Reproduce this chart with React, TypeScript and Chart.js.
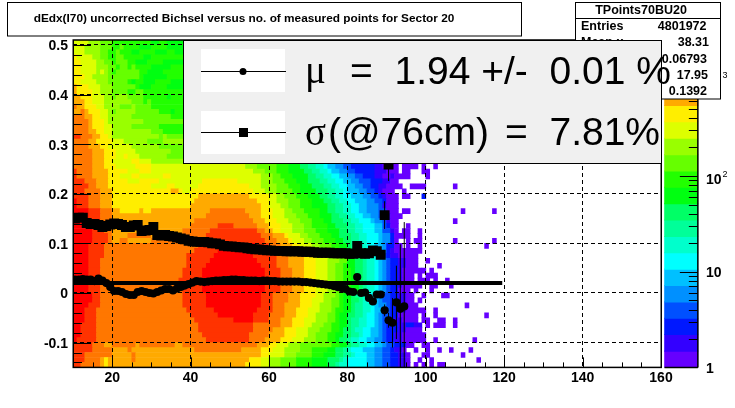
import React, { useEffect, useRef } from "react";
import { Chart, registerables } from "chart.js";

Chart.register(...registerables);

const FONT = '"Liberation Sans", Arial, sans-serif';

const titleText = "dEdx(I70) uncorrected Bichsel versus no. of measured points for Sector 20";
const statsName = "TPoints70BU20";
const statsLabels = ["Entries", "Mean x", "Mean y", "RMS x", "RMS y"];
const statsValues = ["4801972", "38.31", "0.06793", "17.95", "0.1392"];

const xTickValues = [20, 40, 60, 80, 100, 120, 140, 160];
const yTickValues = [-0.1, 0, 0.1, 0.2, 0.3, 0.4, 0.5];
const zTickValues = [1, 10, 100, 1000];
const zTickLabels = ["1", "10", "10", "10"];
const zTickExponents = ["", "", "2", "3"];
const zMinorValues = [2, 3, 4, 5, 6, 7, 8, 9, 20, 30, 40, 50, 60, 70, 80, 90, 200, 300, 400, 500, 600, 700, 800, 900, 2000];

// colour levels a..t, lowest count to highest
const levelColours = [
  "#6600ff", "#3300ff", "#0018ff", "#0050ff", "#0090ff", "#00c0ff", "#00ffff", "#00ffcc", "#00ff99", "#00ff66",
  "#00ff11", "#22ff00", "#66ff00", "#99ff00", "#ddff00", "#ffee00", "#ffaa00", "#ff7700", "#ff3300", "#ff0000",
];
const levelLetters = "abcdefghijklmnopqrst";
const zBandCentres = [1.22, 1.8, 2.68, 3.97, 5.88, 8.71, 12.9, 19.1, 28.3, 42, 62.3, 92.2, 136.6, 202, 300, 445, 659, 976, 1446, 2143];

// lower edge of each histogram row
const heatRowY = [
  0.5, 0.49, 0.48, 0.47, 0.46, 0.45, 0.44, 0.43, 0.42, 0.41, 0.4, 0.39, 0.38, 0.37, 0.36, 0.35, 0.34, 0.33, 0.32, 0.31, 0.3, 0.29, 0.28, 0.27, 0.26,
  0.25, 0.24, 0.23, 0.22, 0.21, 0.2, 0.19, 0.18, 0.17, 0.16, 0.15, 0.14, 0.13, 0.12, 0.11, 0.1, 0.09, 0.08, 0.07, 0.06, 0.05, 0.04, 0.03, 0.02, 0.01, 0,
  -0.01, -0.02, -0.03, -0.04, -0.05, -0.06, -0.07, -0.08, -0.09, -0.1, -0.11, -0.12, -0.13, -0.14, -0.15,
];
// each row: colour level + the x bin where it starts; "_" is an empty stretch
const heatRows = [
  "o10 n14 m17 l20 k30 l32 k34 _39",
  "o10 n13 m17 l20 m22 l23 k27 l30 k34 _39",
  "o10 n13 m17 l19 m21 l22 k25 l27 k31 l34 k36 _39",
  "p10 o11 n15 m17 l19 m21 l23 k28 l30 _39",
  "p10 o12 n16 m18 l20 m21 l24 k26 l29 k33 _39",
  "p10 o12 n16 m19 l21 m22 l24 m25 l26 k30 l35 _39",
  "p10 o12 n16 o17 n18 m19 l20 m21 l27 k29 l33 _39",
  "p10 o13 n15 m19 l27 k28 l34 _39",
  "p10 o12 n16 m19 l24 k25 l26 k28 l31 k35 _39",
  "q10 p11 o14 n17 m20 l26 k27 l30 k34 _39",
  "q10 p11 o15 n17 m20 l24 m26 l28 _39",
  "q10 p12 o15 n18 m20 n21 m24 l28 k34 l35 _39",
  "q10 p13 o15 n18 m25 l28 m29 l30 _39",
  "r10 q11 p13 o16 n18 m22 n25 m26 l30 _39",
  "q10 r12 q13 p14 o17 n19 m20 n21 m26 l32 k35 l36 _39",
  "r10 q13 p15 o17 n19 m25 l35 _39",
  "r10 q14 p15 o18 n19 m28 _39",
  "r10 q14 p15 o18 n20 m25 l32 _39",
  "r10 q14 p16 o18 n20 m30 l33 _39",
  "s10 r12 q15 p17 o19 n20 m32 n33 m34 _39",
  "r10 q14 p16 o20 n23 m29 n33 _39",
  "r10 q14 p17 o19 n25 m32 _39",
  "r10 q15 p18 o21 n26 m35 _39",
  "r10 q15 p18 o21 p23 o24 n27 m34 _39",
  "r10 q15 p18 o20 p25 o27 n30 _39",
  "r10 q15 p18 o21 p26 o30 n54 m57 l62 k65 j68 i70 h72 g74 f75 e77 d79 c81 b87 a89 _93 a94 _98 a99 _100 a102 _103",
  "s10 r11 q15 p19 o24 p27 o30 n56 m59 l62 k65 j69 i71 h73 g75 f76 e78 d80 c82 b87 a90 _93 a94 _96 a99 _101",
  "s10 r11 q15 p19 o22 p25 o27 p33 o35 n58 m61 l63 k66 j70 i72 h74 g76 f78 e80 d82 c84 b87 a89 b91 a92 _96 a100 _101",
  "s10 r13 q16 p19 o24 p27 o32 p43 o52 n58 m61 l64 k67 j70 i73 h75 g77 f79 e81 d83 c86 b89 a91 _93",
  "s10 r14 q16 p19 o30 p34 o36 p42 o55 n58 m62 l65 k68 j71 i74 h76 g78 f80 e82 d84 c86 b88 a90 _94 a96 _100 a107 _108",
  "s10 r13 q17 p20 q35 p37 o38 p40 o56 n59 m62 l66 k68 j72 i75 h77 g79 f80 e83 d85 c87 b88 a89 _92 a94 _95",
  "s10 r14 q17 p20 q42 p55 o60 n62 m64 l67 k70 j73 i75 h77 g79 f81 e84 d86 c88 b89 a90 _93 a94 _96 c99 _100",
  "t10 s11 r14 q17 p20 q41 p57 o60 n62 m65 l68 k71 j74 i76 h78 g80 f82 e85 d87 c89 a90 _93",
  "t10 s11 r14 q17 p20 q40 p58 o60 n63 m65 l68 k71 j75 i77 h79 g81 f83 e85 d88 b89 a90 _93",
  "t10 s14 r17 q20 p22 q27 p28 q30 r45 q54 p58 o61 n64 m66 l69 k73 j75 i77 h79 g81 f83 e85 d88 a90 _93 a94 _96 a109 _110 a117 _118",
  "t10 s14 r17 q20 r44 q55 p58 o61 n64 m67 l70 k73 j76 i78 h80 g82 f84 e86 d88 b90 a91 _94",
  "t10 s14 r17 q20 r41 q56 p59 o62 n65 m68 l71 k74 j76 i79 h81 g83 f86 e87 d89 b90 a91 _93 a107 _108",
  "t10 s14 r17 q20 r40 s47 r51 q57 p60 o63 n66 m69 l71 k75 j77 i80 h82 g84 f87 d89 c90 a91 _93 a95 _96",
  "t10 s15 r18 q20 r38 s45 r57 q59 p61 o63 n66 m69 l72 k75 j78 i80 h82 g84 f87 d89 b91 a92 _93 a94 _96 a98 _99",
  "t10 s15 r19 q20 r24 q30 r38 s44 r58 q61 p64 o65 n68 m70 l73 k76 j78 i81 h83 g85 f88 e89 c91 a92 _94 a94 _96 a98 _99",
  "t10 s15 r19 q20 r22 q24 r30 s44 r59 q62 p65 o66 n69 m71 l74 k77 j79 i81 h83 g85 f88 e89 c91 a92 _93 a95 _96 a97 _99 a107 _108 a117 _118",
  "t10 s14 r18 s42 t50 s57 r60 q63 p66 o68 n71 m73 l76 k78 j80 i81 h83 g85 f87 e89 c90 a92 _94 a95 _96 a98 _99 a115 _116",
  "t10 s14 r18 s41 t47 s58 r61 q64 p67 o70 n73 m75 l77 k79 j81 i83 h85 g86 f88 e89 c90 b91 a92 _99",
  "t10 s14 r18 s39 t46 s56 r62 q65 p69 o72 n75 m78 l80 k82 j83 i84 h86 g87 f88 d89 c90 b91 a93 _98",
  "t10 s14 r17 s39 t45 s57 r62 q65 p69 o72 n75 m78 k80 j82 i84 h85 g87 f88 e89 d90 c91 b93 a95 _98 a100 _101",
  "t10 s14 r17 s39 t44 s58 r62 q65 p69 o72 n75 m77 l79 k80 j82 i84 h85 g87 f88 e89 d90 c91 b93 a95 _98 a103 _104",
  "t10 s14 r17 s38 t43 s59 r63 q66 p69 o72 n75 m77 l79 k81 j82 i84 h85 g87 f88 e89 d90 c91 b93 a94 _99 a99 _100 a101 _102",
  "t10 s14 r17 s38 t43 s59 r63 q66 p69 o72 n75 m77 l79 k81 j82 i84 h85 g87 f88 e89 d90 c91 b93 a94 _97 a98 _99 a100 _103",
  "t10 s14 r17 s37 t43 s59 r63 q66 p69 o72 n75 m77 l79 k81 j82 i84 h85 g87 f88 e89 d90 c91 b93 a94 _97 a98 _101 a102 _103 a105 _106",
  "t10 s14 r17 s37 t43 s59 r63 q66 p69 o72 n75 m77 l79 k81 j83 i84 h85 g87 f88 e89 d90 c91 b93 a94 _99 a101 _103 a106 _107",
  "t10 s14 r17 s38 t43 s59 r63 q66 p69 o72 n75 m77 l79 k81 j83 i84 h85 g87 f88 e89 d90 c91 a93 _96 a97 _98 a101 _102",
  "t10 s15 r17 s38 t44 s58 r61 q65 p68 o72 n74 m77 l78 k79 j81 i82 h84 g85 f87 e88 d89 c91 b93 a95 _97 a99 _100 a104 _106",
  "t10 s15 r17 s38 t44 s58 r61 q65 p68 o71 n74 m76 l78 k79 j81 i83 h84 g85 f87 e88 d89 c91 b93 a95 _97 a98 _99",
  "t10 s14 r17 s38 t44 s58 r61 q64 p68 o71 n73 m76 l78 k79 j81 i82 h84 g86 f87 e88 d90 c91 b93 a95 _98 a110 _111",
  "t10 s13 r16 s39 t46 s57 r61 q64 p67 o70 n73 m76 l77 k79 j81 i82 h84 g86 f87 e89 d90 c91 b93 a95 _100 a102 _103",
  "t10 s13 r16 s40 t47 s56 r60 q64 p67 o70 n72 m75 l77 k78 j80 i82 h84 g85 f87 e88 d89 c91 a93 _98 a99 _100 a102 _103 a115 _116",
  "t10 s13 r16 s41 t51 s56 r60 q63 p66 o69 n72 m75 l77 k78 j80 i81 h83 g85 f87 e88 d89 c90 b92 a94 _98 a99 _101 a103 _105 a107 _108",
  "t10 s12 r16 s42 r56 q63 p66 o69 n71 m74 l76 k78 j80 i81 h83 g85 f87 e88 d89 c90 b93 c95 b97 _99 a100 _101 a102 _105 a107 _108",
  "t10 s12 r16 s42 r56 q61 p64 o67 n70 m73 l76 k78 j79 i81 h82 g84 f86 e88 d89 c90 b93 a95 _99",
  "t10 s12 r16 s43 r55 q60 p64 o67 n70 m72 l75 k77 j79 i81 h83 g84 f86 e88 d89 c90 b92 a94 _100",
  "t10 s11 r16 s44 r55 q59 p63 o66 n69 m72 l75 k77 j78 i80 h81 g83 f85 e87 d89 c90 b92 a94 _100 a102 _103 a112 _113",
  "s10 r15 q18 r20 q26 r27 q36 r38 q57 p60 o62 n65 m68 l76 k78 j80 i81 h83 g85 f87 e89 d90 c92 a95 _97 a99 _101",
  "s10 r15 q20 r24 q25 r41 q53 p58 o61 n64 m68 l71 k75 j77 i79 h80 g81 f84 e87 d89 c91 b92 a94 _95 a97 _98 a100 _101 a103 _104 a106 _107 a111 _112",
  "s10 r13 q20 r25 q26 p58 o60 n64 m67 l71 k74 j77 i79 h81 g82 f85 e87 d89 c91 b93 a95 _96 a99 _101 a109 _110",
  "s10 r13 q17 p18 q19 r25 q26 p55 o58 n60 m63 l67 k71 j75 i78 h79 g80 f85 e87 d89 c91 b93 a95 _96 a98 _99 a101 _102 a113 _114",
  "s10 r12 q17 p18 q19 p54 o58 n60 m63 l67 k71 j75 i77 h78 g80 f85 e87 d89 c91 b93 a95 _96 a97 _98 a99 _100 a101 _102 a103 _105",
];

// profile points: bin centre x, mean and sigma
const muX = [
  10.5, 11.5, 12.5, 13.5, 14.5, 15.5, 16.5, 17.5, 18.5, 19.5, 20.5, 21.5, 22.5, 23.5, 24.5, 25.5, 26.5, 27.5, 28.5, 29.5, 30.5, 31.5, 32.5, 33.5, 34.5, 35.5, 36.5, 37.5, 38.5, 39.5,
  40.5, 41.5, 42.5, 43.5, 44.5, 45.5, 46.5, 47.5, 48.5, 49.5, 50.5, 51.5, 52.5, 53.5, 54.5, 55.5, 56.5, 57.5, 58.5, 59.5, 60.5, 61.5, 62.5, 63.5, 64.5, 65.5, 66.5, 67.5, 68.5, 69.5,
  70.5, 71.5, 72.5, 73.5, 74.5, 75.5, 76.5, 77.5, 78.5, 79.5, 80.5, 81.5, 82.5, 83.5, 84.5, 85.5, 86.5, 87.5, 88.5, 89.5, 90.5, 91.5, 92.5, 93.5, 94.5,
];
const muValues = [
  0.027, 0.027, 0.028, 0.027, 0.027, 0.024, 0.029, 0.025, 0.02, 0.012, 0.004, 0.004, 0.002, -0.002, -0.004, -0.004, 0.002, 0.004, 0.002, 0, -0.001, 0.002, 0.005, 0.008, 0.008, 0.005, 0.009, 0.012, 0.015, 0.018,
  0.021, 0.024, 0.023, 0.022, 0.023, 0.024, 0.025, 0.025, 0.026, 0.026, 0.027, 0.027, 0.026, 0.026, 0.025, 0.025, 0.025, 0.024, 0.025, 0.025, 0.024, 0.024, 0.023, 0.023, 0.023, 0.023, 0.023, 0.023, 0.022, 0.022,
  0.021, 0.02, 0.019, 0.018, 0.017, 0.016, 0.014, 0.012, 0.01, 0.008, 0.003, 0.002, 0.032, 0, 0.001, -0.01, -0.017, -0.003, -0.003, -0.035, -0.055, -0.06, -0.019, -0.032, -0.027,
];
const sigmaX = [
  10.5, 11.5, 12.5, 13.5, 14.5, 15.5, 16.5, 17.5, 18.5, 19.5, 20.5, 21.5, 22.5, 23.5, 24.5, 25.5, 26.5, 27.5, 28.5, 29.5, 30.5, 31.5, 32.5, 33.5, 34.5, 35.5, 36.5, 37.5, 38.5, 39.5,
  40.5, 41.5, 42.5, 43.5, 44.5, 45.5, 46.5, 47.5, 48.5, 49.5, 50.5, 51.5, 52.5, 53.5, 54.5, 55.5, 56.5, 57.5, 58.5, 59.5, 60.5, 61.5, 62.5, 63.5, 64.5, 65.5, 66.5, 67.5, 68.5, 69.5,
  70.5, 71.5, 72.5, 73.5, 74.5, 75.5, 76.5, 77.5, 78.5, 79.5, 80.5, 81.5, 82.5, 83.5, 84.5, 85.5, 86.5, 87.5, 88.5, 89.5, 90.5,
];
const sigmaValues = [
  0.15, 0.152, 0.152, 0.141, 0.139, 0.139, 0.137, 0.133, 0.135, 0.138, 0.14, 0.139, 0.137, 0.133, 0.133, 0.136, 0.137, 0.125, 0.126, 0.127, 0.133, 0.117, 0.116, 0.117, 0.115, 0.114, 0.112, 0.11, 0.108, 0.105,
  0.104, 0.103, 0.103, 0.103, 0.102, 0.1, 0.1, 0.098, 0.095, 0.094, 0.094, 0.093, 0.092, 0.092, 0.09, 0.089, 0.088, 0.088, 0.087, 0.086, 0.086, 0.085, 0.085, 0.085, 0.084, 0.084, 0.084, 0.084, 0.083, 0.083,
  0.083, 0.082, 0.081, 0.081, 0.081, 0.081, 0.08, 0.08, 0.08, 0.08, 0.079, 0.079, 0.095, 0.08, 0.079, 0.08, 0.086, 0.084, 0.077, 0.157, 0.259,
];
// only the sparse last bins have error bars long enough to see: x, centre, half length
const errX = [89.5, 90.5, 91.5, 92.5, 93.5, 94.5, 89.5, 90.5];
const errCentre = [-0.035, -0.055, -0.06, -0.019, -0.032, -0.027, 0.157, 0.259];
const errHalf = [0.012, 0.015, 0.05, 0.074, 0.13, 0.17, 0.028, 0.033];
const fitX = [10, 119.5];
const fitY = [0.0202, 0.0202];

const muLegend = "=  1.94 +/-  0.01 %";
const sigmaLegend = "(@76cm)";
const sigmaLegendValue = "=  7.81%";

function buildHeat() {
  const cells: { x: [number, number]; y: number }[] = [];
  const colours: string[] = [];
  heatRows.forEach((row, i) => {
    const tokens = row.split(" ");
    tokens.forEach((tok, j) => {
      if (tok[0] === "_" || j === tokens.length - 1) return;
      const start = +tok.slice(1);
      const end = +tokens[j + 1].slice(1);
      if (end <= start) return;
      cells.push({ x: [start, end], y: heatRowY[i] + 0.005 });
      colours.push(levelColours[levelLetters.indexOf(tok[0])]);
    });
  });
  return { cells, colours };
}

const rootDecor = {
  id: "rootDecor",
  afterDraw(chart: any) {
    const { ctx, chartArea: a, scales } = chart;
    ctx.save();
    ctx.strokeStyle = "#000";
    ctx.fillStyle = "#000";
    ctx.lineWidth = 1;
    const seg = (x0: number, y0: number, x1: number, y1: number) => {
      ctx.beginPath();
      ctx.moveTo(x0, y0);
      ctx.lineTo(x1, y1);
      ctx.stroke();
    };
    // inward tick marks
    for (let v = 10; v <= 160; v += 5) {
      const p = Math.round(scales.x.getPixelForValue(v)) + 0.5;
      seg(p, a.bottom, p, a.bottom - (v % 20 === 0 ? 10 : 5));
    }
    for (let k = -7; k <= 25; k++) {
      const p = Math.round(scales.y.getPixelForValue(k * 0.02)) + 0.5;
      seg(a.left, p, a.left + (k % 5 === 0 ? 18 : 9), p);
    }
    // frame
    ctx.lineWidth = 1.5;
    ctx.strokeRect(a.left + 0.25, a.top, a.right - a.left, a.bottom - a.top);
    // colour bar axis
    const zx = scales.x.getPixelForValue(169.4);
    const zl = scales.x.getPixelForValue(160.9);
    seg(zx, a.top, zx, a.bottom);
    seg(zl, a.bottom, zx, a.bottom);
    ctx.lineWidth = 1;
    zTickValues.forEach((v) => {
      const p = Math.round(scales.z.getPixelForValue(v)) + 0.5;
      seg(zx, p, zx - 18, p);
    });
    zMinorValues.forEach((v) => {
      const p = Math.round(scales.z.getPixelForValue(v)) + 0.5;
      seg(zx, p, zx - 9, p);
    });

    // title box
    ctx.lineWidth = 1;
    ctx.fillStyle = "#fff";
    ctx.fillRect(7.5, 2.5, 514, 33.5);
    ctx.strokeRect(7.5, 2.5, 514, 33.5);
    ctx.fillStyle = "#000";
    ctx.font = `bold 11.83px ${FONT}`;
    ctx.textAlign = "center";
    ctx.textBaseline = "middle";
    ctx.fillText(titleText, 244, 18.5);

    // statistics box
    ctx.fillStyle = "#fff";
    ctx.fillRect(575.5, 2.5, 145, 96.5);
    ctx.strokeRect(575.5, 2.5, 145, 96.5);
    seg(575.5, 18.5, 720.5, 18.5);
    ctx.fillStyle = "#000";
    ctx.font = `bold 12.5px ${FONT}`;
    ctx.fillText(statsName, 641, 11);
    const rows = [27, 43, 60, 76, 92];
    const rights = [706.5, 709, 707, 708, 707];
    statsLabels.forEach((label, i) => {
      ctx.textAlign = "left";
      ctx.fillText(label, 581, rows[i]);
      ctx.textAlign = "right";
      ctx.fillText(statsValues[i], rights[i], rows[i]);
    });

    // exponents of the colour axis labels
    const exponentLift = [0, 0, 1, 4];
    ctx.font = `9px ${FONT}`;
    ctx.textAlign = "left";
    zTickValues.forEach((v, i) => {
      if (zTickExponents[i]) ctx.fillText(zTickExponents[i], 722.5, scales.z.getPixelForValue(v) - exponentLift[i]);
    });

    // legend box
    ctx.fillStyle = "#f0f0f0";
    ctx.fillRect(183.5, 40.5, 478, 123);
    ctx.strokeRect(183.5, 40.5, 478, 123);
    ctx.fillStyle = "#fff";
    ctx.fillRect(201, 49, 84, 43);
    ctx.fillRect(201, 111, 84, 43);
    ctx.fillStyle = "#000";
    seg(201, 71.5, 286, 71.5);
    seg(201, 132.5, 286, 132.5);
    ctx.beginPath();
    ctx.arc(243, 71.5, 3.5, 0, Math.PI * 2);
    ctx.fill();
    ctx.fillRect(239, 128, 9, 9);
    ctx.textAlign = "left";
    ctx.textBaseline = "alphabetic";
    ctx.font = `39px "Liberation Serif", serif`;
    ctx.fillText("\u03bc", 305, 83);
    ctx.fillText("\u03c3", 305, 145);
    ctx.font = `39px ${FONT}`;
    ctx.fillText(muLegend, 350, 83.5);
    ctx.fillText(sigmaLegend, 328, 145);
    ctx.fillText(sigmaLegendValue, 505, 145);
    ctx.restore();
  },
};

const noPadding = (s: any) => {
  s.paddingTop = 0;
  s.paddingBottom = 0;
  s.paddingLeft = 0;
  s.paddingRight = 0;
};

export default function App() {
  const ref = useRef<HTMLCanvasElement | null>(null);
  useEffect(() => {
    const heat = buildHeat();
    const errPoints: { x: number; y: number | null }[] = [];
    errX.forEach((x, i) => {
      errPoints.push({ x, y: errCentre[i] - errHalf[i] }, { x, y: errCentre[i] + errHalf[i] }, { x, y: null });
    });
    const labelFont = { family: FONT, size: 14, weight: "bold" as const };
    const chart = new Chart(ref.current as HTMLCanvasElement, {
      type: "bar",
      plugins: [rootDecor],
      data: {
        datasets: [
          {
            type: "line",
            label: "fit",
            data: fitX.map((x, i) => ({ x, y: fitY[i] })),
            borderColor: "#000",
            borderWidth: 4,
            pointRadius: 0,
            order: 3,
          },
          {
            type: "line",
            label: "errors",
            data: errPoints,
            borderColor: "#000",
            borderWidth: 1,
            pointRadius: 0,
            spanGaps: false,
            order: 2,
          },
          {
            type: "scatter",
            label: "mu",
            data: muX.map((x, i) => ({ x, y: muValues[i] })),
            pointStyle: "circle",
            pointRadius: 4.1,
            backgroundColor: "#000",
            borderWidth: 0,
            order: 1,
          },
          {
            type: "scatter",
            label: "sigma",
            data: sigmaX.map((x, i) => ({ x, y: sigmaValues[i] })),
            pointStyle: "rect",
            pointRadius: 7,
            backgroundColor: "#000",
            borderWidth: 0,
            order: 1,
          },
          {
            label: "counts",
            indexAxis: "y",
            data: heat.cells,
            backgroundColor: heat.colours,
            barThickness: 5,
            barPercentage: 1,
            categoryPercentage: 1,
            grouped: false,
            borderWidth: 0,
            order: 10,
          },
          {
            label: "colour bar",
            indexAxis: "y",
            yAxisID: "z",
            data: zBandCentres.map((z) => ({ x: [160.9, 169.4], y: z })),
            backgroundColor: levelColours,
            barThickness: 16.8,
            barPercentage: 1,
            categoryPercentage: 1,
            grouped: false,
            borderWidth: 0,
            clip: false,
            order: 11,
          },
        ] as any,
      },
      options: {
        responsive: false,
        animation: false,
        devicePixelRatio: 1,
        events: [],
        layout: { padding: { top: 40, left: 0, right: 0, bottom: 0 } },
        plugins: { legend: { display: false }, title: { display: false }, tooltip: { enabled: false } },
        scales: {
          x: {
            type: "linear",
            min: 10,
            max: 160,
            offset: false,
            afterBuildTicks: (s: any) => {
              s.ticks = xTickValues.map((value) => ({ value }));
            },
            afterFit: (s: any) => {
              s.height = 40.6;
              noPadding(s);
            },
            grid: { offset: false, color: "#000", lineWidth: 1, drawTicks: false, z: 1 },
            border: { display: false, dash: [4, 3] },
            ticks: { font: labelFont, color: "#000", padding: 2, autoSkip: false, maxRotation: 0, callback: (v: any) => String(v) },
          },
          y: {
            type: "linear",
            min: -0.15,
            max: 0.51,
            offset: false,
            afterBuildTicks: (s: any) => {
              s.ticks = yTickValues.map((value) => ({ value }));
            },
            afterFit: (s: any) => {
              s.width = 73;
              noPadding(s);
            },
            grid: { offset: false, color: "#000", lineWidth: 1, drawTicks: false, z: 1 },
            border: { display: false, dash: [4, 3] },
            ticks: {
              font: { ...labelFont, lineHeight: "3px" },
              color: "#000",
              padding: 5,
              autoSkip: false,
              callback: (v: any) => ["", String(v)],
            },
          },
          z: {
            type: "logarithmic",
            position: "right",
            min: 1,
            max: 2609,
            offset: false,
            afterBuildTicks: (s: any) => {
              s.ticks = zTickValues.map((value) => ({ value }));
            },
            afterFit: (s: any) => {
              s.width = 74;
              noPadding(s);
            },
            grid: { display: false, offset: false, drawTicks: false },
            border: { display: false },
            ticks: {
              font: (c: any) => ({ ...labelFont, lineHeight: c.tick && c.tick.value >= 100 ? "9px" : "3px" }),
              color: "#000",
              padding: 45,
              autoSkip: false,
              callback: (v: any) => ["", zTickLabels[zTickValues.indexOf(Number(v))] ?? ""],
            },
          },
        },
      } as any,
    });
    return () => chart.destroy();
  }, []);
  return (
    <canvas
      ref={ref}
      width={735}
      height={408}
      style={{ position: "absolute", left: 0, top: 0, display: "block", width: 735, height: 408 }}
    />
  );
}
